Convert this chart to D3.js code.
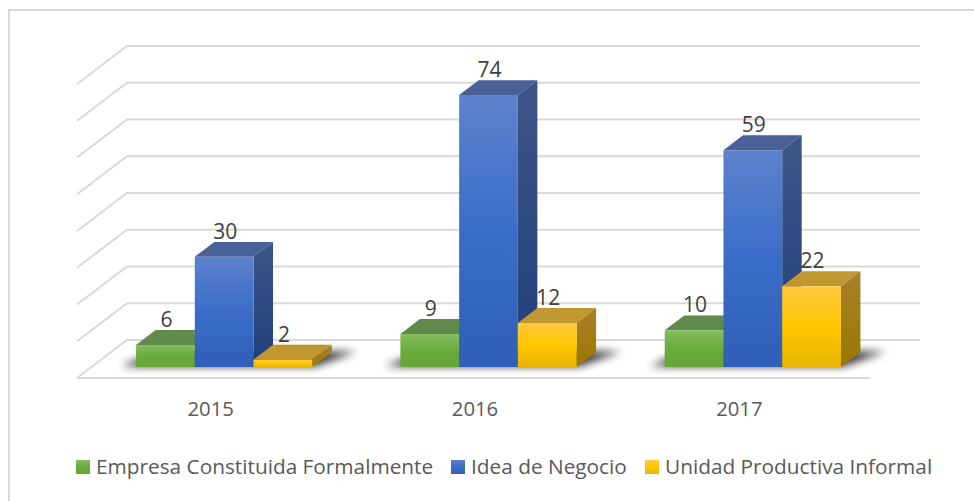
<!DOCTYPE html>
<html>
<head>
<meta charset="utf-8">
<script src="https://cdn.jsdelivr.net/npm/d3@7"></script>
<style>
  html, body { margin: 0; padding: 0; background: #fff; }
  svg { display: block; }
  text { font-family: "Open Sans", sans-serif; }
</style>
</head>
<body>
<svg id="chart" width="974" height="501"></svg>
<script>
const years = ['2015', '2016', '2017']
const seriesNames = ['Empresa Constituida Formalmente', 'Idea de Negocio', 'Unidad Productiva Informal']
const empresa = [6, 9, 10]
const idea = [30, 74, 59]
const unidad = [2, 12, 22]
const gridTicks = [0, 10, 20, 30, 40, 50, 60, 70, 80]

const seriesValues = [empresa, idea, unidad]
const keys = ['green', 'blue', 'yellow']

const palette = {
  green: { front: ['#85bc60', '#6bab3c', '#66a536'], side: ['#4f7a34', '#3f6a24'], top: '#5f8a4b' },
  blue: { front: ['#5c82cc', '#3b6dc8', '#2f5fb8'], side: ['#3f5587', '#1f3f7a'], top: '#4a6198' },
  yellow: { front: ['#ffc83f', '#ffc600', '#e8b400'], side: ['#a7802a', '#9a7800'], top: '#c0982f' }
}

const svg = d3.select('#chart')
const defs = svg.append('defs')

// gradients for the bar faces
keys.forEach(k => {
  const f = defs.append('linearGradient').attr('id', 'front-' + k)
    .attr('x1', 0).attr('y1', 0).attr('x2', 0).attr('y2', 1)
  palette[k].front.forEach((c, i) => f.append('stop').attr('offset', i / 2).attr('stop-color', c))
  const s = defs.append('linearGradient').attr('id', 'side-' + k)
    .attr('x1', 0).attr('y1', 0).attr('x2', 0).attr('y2', 1)
  palette[k].side.forEach((c, i) => s.append('stop').attr('offset', i).attr('stop-color', c))
})
defs.append('filter').attr('id', 'blur')
  .attr('x', '-20%').attr('y', '-100%').attr('width', '140%').attr('height', '300%')
  .append('feGaussianBlur').attr('stdDeviation', 4)

// frame, only the top and left edges fall inside the picture
svg.append('rect')
  .attr('x', 9).attr('y', 10)
  .attr('width', 1000).attr('height', 520)
  .attr('fill', '#fff').attr('stroke', '#d9d9d9').attr('stroke-width', 2)

// scales, the depth axis runs from the front of the floor to the back wall
const x = d3.scaleBand().domain(years).range([77.5, 870.5])
const xInner = d3.scaleBand().domain(seriesNames).range([x.bandwidth() / 6, x.bandwidth() * 5 / 6])
const y = d3.scaleLinear().domain([0, 80]).range([378, 84])
const depthX = 50
const depthY = 38
const project = (px, v, d) => [px + d * depthX, y(v) - d * depthY]
const barFront = 0.29
const barBack = 0.68

// grid
const grid = svg.append('g').attr('fill', 'none').attr('stroke', '#d9d9d9').attr('stroke-width', 2)
grid.selectAll('path')
  .data(gridTicks)
  .enter()
  .append('path')
  .attr('d', d => d3.line()([
    project(77, d, 0),
    project(77, d, 1),
    project(870, d, 1)
  ]))
grid.append('path').attr('d', d3.line()([project(77, 0, 0), project(870, 0, 0)]))

// floor shadow under each group of bars
svg.append('g').selectAll('path')
  .data(years)
  .enter()
  .append('path')
  .attr('filter', 'url(#blur)')
  .attr('fill', '#000')
  .attr('opacity', 0.8)
  .attr('d', yr => {
    const x0 = x(yr) + xInner(seriesNames[0])
    const x1 = x(yr) + xInner(seriesNames[2]) + xInner.bandwidth()
    return d3.line()([
      project(x0 - 16, 0, barFront + 0.02),
      project(x1 + 2, 0, barFront + 0.02),
      project(x1 + 24, 0, barBack + 0.02),
      project(x0, 0, barBack + 0.02)
    ]) + 'Z'
  })

// bars, drawn left to right so each one covers the one before it
const bars = years.flatMap((yr, i) => seriesNames.map((name, j) => ({
  year: yr, name: name, key: keys[j], value: seriesValues[j][i]
})))

const bar = svg.append('g').selectAll('g')
  .data(bars)
  .enter()
  .append('g')

const poly = pts => d3.line()(pts) + 'Z'
const left = d => x(d.year) + xInner(d.name)
const right = d => left(d) + xInner.bandwidth()

bar.append('path')
  .attr('fill', d => palette[d.key].top)
  .attr('d', d => poly([
    project(left(d), d.value, barFront), project(right(d), d.value, barFront),
    project(right(d), d.value, barBack), project(left(d), d.value, barBack)
  ]))

bar.append('path')
  .attr('fill', d => `url(#side-${d.key})`)
  .attr('d', d => poly([
    project(right(d), d.value, barFront), project(right(d), 0, barFront),
    project(right(d), 0, barBack), project(right(d), d.value, barBack)
  ]))

bar.append('path')
  .attr('fill', d => `url(#front-${d.key})`)
  .attr('d', d => poly([
    project(left(d), d.value, barFront), project(right(d), d.value, barFront),
    project(right(d), 0, barFront), project(left(d), 0, barFront)
  ]))

// value labels
svg.append('g').selectAll('text')
  .data(bars)
  .enter()
  .append('text')
  .attr('x', d => project((left(d) + right(d)) / 2, d.value, barFront)[0] + 1)
  .attr('y', d => project(left(d), d.value, barBack)[1] - 3)
  .attr('text-anchor', 'middle')
  .attr('font-size', 21)
  .attr('fill', '#404040')
  .text(d => d.value)

// category labels
svg.append('g').selectAll('text')
  .data(years)
  .enter()
  .append('text')
  .attr('x', d => x(d) + x.bandwidth() / 2 + 1)
  .attr('y', 416)
  .attr('text-anchor', 'middle')
  .attr('font-size', 20.3)
  .attr('fill', '#595959')
  .text(d => d)

// legend
const legendX = [76, 451, 645]
const legend = svg.append('g').selectAll('g')
  .data(seriesNames)
  .enter()
  .append('g')
  .attr('transform', (d, i) => `translate(${legendX[i]}, 460)`)

legend.append('rect')
  .attr('width', 14)
  .attr('height', 14)
  .attr('fill', (d, i) => `url(#front-${keys[i]})`)

legend.append('text')
  .attr('x', 20)
  .attr('y', 14)
  .attr('font-size', 20.8)
  .attr('fill', '#595959')
  .text(d => d)
</script>
</body>
</html>
